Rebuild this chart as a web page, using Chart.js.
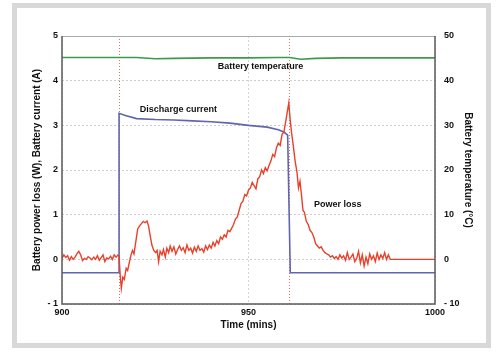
<!DOCTYPE html>
<html>
<head>
<meta charset="utf-8">
<script src="https://cdn.jsdelivr.net/npm/chart.js@4.4.0/dist/chart.umd.min.js"></script>
<style>
  html, body { margin: 0; padding: 0; background: #fff; }
  #frame {
    position: absolute; left: 12px; top: 3px; width: 469px; height: 335px;
    border: 5px solid #d8d8d8; background: #fff;
  }
  #wrap { position: absolute; left: 0; top: 0; width: 500px; height: 354px; }
</style>
</head>
<body>
<div id="frame"></div>
<div id="wrap"><canvas id="chart" width="500" height="354"></canvas></div>
<script>
// Battery power loss (W), left axis
const powerTime = [
  900, 900.5, 901, 901.5, 902, 902.5, 903, 903.5, 904, 904.5, 905, 905.5, 906, 906.5, 907, 907.5,
  908, 908.5, 909, 909.5, 910, 910.5, 911, 911.5, 912, 912.5, 913, 913.5, 914, 914.5, 915,
  915.3, 915.6, 915.9, 916.3, 916.7, 917.2, 917.6, 918.1, 918.5, 918.9, 919.3, 919.8, 920.3, 920.8,
  921.3, 921.8, 922.3, 922.8, 923.2, 923.6, 924.1, 924.6, 925.1, 925.5, 925.9, 926.3, 926.8, 927.2,
  927.7, 928.1, 928.6, 929, 929.5, 930, 930.5, 931, 931.5, 932, 932.5, 933, 933.5, 934, 934.5, 935,
  935.5, 936, 936.5, 937, 937.5, 938, 938.5, 939, 939.5, 940, 940.5, 941, 941.5, 942, 942.5, 943,
  943.5, 944, 944.5, 945, 945.5, 946, 946.5, 947, 947.5, 948, 948.5, 949, 949.5, 950, 950.5, 951,
  951.5, 952, 952.5, 953, 953.5, 954, 954.5, 955, 955.5, 956, 956.5, 957, 957.5, 958, 958.5, 959,
  959.5, 960, 960.4, 960.8, 961.2, 961.6, 962, 962.5, 963, 963.4, 963.8, 964.2, 964.6, 965, 965.5,
  966, 966.5, 967, 967.5, 968, 968.5, 969, 969.5, 970, 970.5, 971, 971.5, 972, 972.5, 973, 973.5,
  974, 974.5, 975, 975.5, 976, 976.5, 977, 977.5, 978, 978.5, 979, 979.5, 980, 980.5, 981, 981.5,
  982, 982.5, 983, 983.5, 984, 984.5, 985, 985.5, 986, 986.5, 987, 987.5, 988, 1000
];
const powerLoss = [
  0.02, 0.1, 0.04, 0.08, -0.02, 0.06, 0.0, 0.05, 0.12, 0.18, 0.1, -0.03, 0.02, 0.0, 0.06, 0.03,
  -0.01, 0.05, 0.0, 0.08, -0.02, 0.04, 0.1, -0.05, 0.03, 0.01, 0.07, 0.0, 0.1, 0.05, 0.1,
  0.08, -0.35, -0.65, -0.4, -0.45, -0.2, -0.25, -0.05, 0.1, 0.2, 0.12, 0.4, 0.68, 0.75,
  0.8, 0.85, 0.82, 0.86, 0.75, 0.55, 0.32, 0.2, 0.15, 0.2, -0.05, 0.18, 0.1, 0.22,
  0.05, 0.25, 0.15, 0.3, 0.18, 0.28, 0.12, 0.22, 0.3, 0.2, 0.26, 0.15, 0.32, 0.2, 0.25, 0.14,
  0.27, 0.18, 0.3, 0.2, 0.24, 0.16, 0.3, 0.22, 0.32, 0.25, 0.38, 0.3, 0.42, 0.35, 0.5, 0.45,
  0.55, 0.5, 0.65, 0.62, 0.7, 0.78, 0.9, 0.95, 1.1, 1.25, 1.3, 1.45, 1.42, 1.55, 1.6, 1.72,
  1.65, 1.58, 1.8, 1.85, 2.0, 1.92, 2.05, 1.98, 2.1, 2.2, 2.35, 2.3, 2.5, 2.6, 2.55, 2.8,
  2.85, 3.1, 3.3, 3.5, 3.1, 2.8, 2.55, 2.2, 1.95, 1.6, 1.75, 1.45, 1.1, 1.05, 0.85,
  0.78, 0.65, 0.6, 0.5, 0.35, 0.3, 0.25, 0.28, 0.2, 0.15, 0.12, 0.1, 0.05, 0.08, 0.02, 0.06,
  0.0, 0.1, 0.03, 0.08, -0.02, 0.15, 0.0, 0.05, 0.12, -0.05, 0.02, 0.18, -0.08, 0.1, -0.15, 0.05,
  -0.1, 0.12, 0.0, 0.08, -0.05, 0.14, 0.0, 0.1, 0.02, 0.15, 0.0, 0.1, 0.0, 0.0
];

// Discharge current (A), left axis
const currentTime = [900, 915.3, 915.3, 917, 920, 925, 930, 935, 940, 945, 950, 955, 958, 959.5, 960.5, 961.2, 1000];
const currentAmps = [-0.3, -0.3, 3.27, 3.22, 3.15, 3.13, 3.12, 3.1, 3.08, 3.05, 3.0, 2.96, 2.9, 2.85, 2.78, -0.3, -0.3];

// Battery temperature (°C), right axis
const tempTime = [900, 910, 920, 925, 930, 940, 950, 958, 961, 964, 968, 975, 985, 1000];
const tempC = [45.2, 45.2, 45.2, 44.9, 45.0, 45.1, 45.1, 45.2, 45.2, 44.8, 45.0, 45.1, 45.1, 45.1];

// cursor markers (mins)
const markerTimes = [915.3, 960.8];

// x ticks
const timeTicks = [900, 950, 1000];

const labels = [
  { text: 'Battery temperature', x: 953.2, y: 4.32 },
  { text: 'Discharge current', x: 931.2, y: 3.36 },
  { text: 'Power loss', x: 973.9, y: 1.23 }
];

const toPts = (xs, ys) => xs.map((x, i) => ({ x: x, y: ys[i] }));
const dashLabel = v => (v < 0 ? '- ' + Math.abs(v) : String(v));
const tickFont = { family: 'Liberation Sans, Arial, sans-serif', size: 9, weight: 'bold' };
const titleFont = { family: 'Liberation Sans, Arial, sans-serif', size: 10, weight: 'bold' };

const extras = {
  id: 'extras',
  beforeDatasetsDraw(chart) {
    const { ctx, chartArea: a, scales } = chart;
    ctx.save();
    ctx.strokeStyle = '#e07070';
    ctx.lineWidth = 1;
    ctx.setLineDash([1, 2]);
    markerTimes.forEach(t => {
      const px = Math.round(scales.x.getPixelForValue(t)) + 0.5;
      ctx.beginPath();
      ctx.moveTo(px, a.top);
      ctx.lineTo(px, a.bottom);
      ctx.stroke();
    });
    ctx.restore();
  },
  afterDatasetsDraw(chart) {
    const { ctx, chartArea: a, scales } = chart;
    ctx.save();
    ctx.fillStyle = '#111';
    ctx.font = 'bold 9px "Liberation Sans", Arial, sans-serif';
    ctx.textAlign = 'center';
    ctx.textBaseline = 'middle';
    labels.forEach(l => {
      ctx.fillText(l.text, scales.x.getPixelForValue(l.x), scales.y.getPixelForValue(l.y));
    });
    // plot frame
    ctx.lineWidth = 1;
    ctx.strokeStyle = '#aaaaaa';
    ctx.beginPath();
    ctx.moveTo(a.left, a.top + 0.5);
    ctx.lineTo(a.right, a.top + 0.5);
    ctx.stroke();
    ctx.lineWidth = 1.5;
    ctx.strokeStyle = '#5a5a5a';
    ctx.beginPath();
    ctx.moveTo(a.left, a.top);
    ctx.lineTo(a.left, a.bottom);
    ctx.lineTo(a.right, a.bottom);
    ctx.lineTo(a.right, a.top);
    ctx.stroke();
    ctx.restore();
  }
};

new Chart(document.getElementById('chart'), {
  type: 'line',
  data: {
    datasets: [
      {
        label: 'Power loss',
        data: toPts(powerTime, powerLoss),
        borderColor: '#e8402a',
        borderWidth: 1.4,
        yAxisID: 'y',
        order: 1
      },
      {
        label: 'Discharge current',
        data: toPts(currentTime, currentAmps),
        borderColor: '#6065b0',
        borderWidth: 1.6,
        yAxisID: 'y',
        order: 2
      },
      {
        label: 'Battery temperature',
        data: toPts(tempTime, tempC),
        borderColor: '#3c9a4c',
        borderWidth: 1.6,
        yAxisID: 'y2',
        order: 3
      }
    ]
  },
  options: {
    responsive: false,
    animation: false,
    elements: { point: { radius: 0 }, line: { tension: 0 } },
    layout: { padding: { left: 31, right: 26, top: 36, bottom: 23 } },
    plugins: { legend: { display: false }, tooltip: { enabled: false } },
    scales: {
      x: {
        type: 'linear',
        min: 900,
        max: 1000,
        afterBuildTicks: s => { s.ticks = timeTicks.map(v => ({ value: v })); },
        afterFit: s => { s.height = 27; },
        ticks: { color: '#111', font: tickFont, padding: 3, maxRotation: 0, callback: v => String(v) },
        grid: { color: '#d4d4d4', drawTicks: false },
        border: { display: false, dash: [2, 2] },
        title: { display: true, text: 'Time (mins)', color: '#111', font: titleFont, padding: 0 }
      },
      y: {
        position: 'left',
        min: -1,
        max: 5,
        afterFit: s => { s.width = 31; },
        ticks: { stepSize: 1, color: '#111', font: tickFont, padding: 4, callback: dashLabel },
        grid: { color: '#cccccc', drawTicks: false },
        border: { display: false, dash: [2, 2] },
        title: { display: true, text: 'Battery power loss (W), Battery current (A)', color: '#111', font: titleFont, padding: 0 }
      },
      y2: {
        position: 'right',
        min: -10,
        max: 50,
        afterFit: s => { s.width = 39; },
        ticks: { stepSize: 10, color: '#111', font: tickFont, padding: 9, callback: dashLabel },
        grid: { display: false, drawTicks: false },
        border: { display: false },
        title: { display: true, text: 'Battery temperature (°C)', color: '#111', font: titleFont, padding: 0 }
      }
    }
  },
  plugins: [extras]
});
</script>
</body>
</html>
